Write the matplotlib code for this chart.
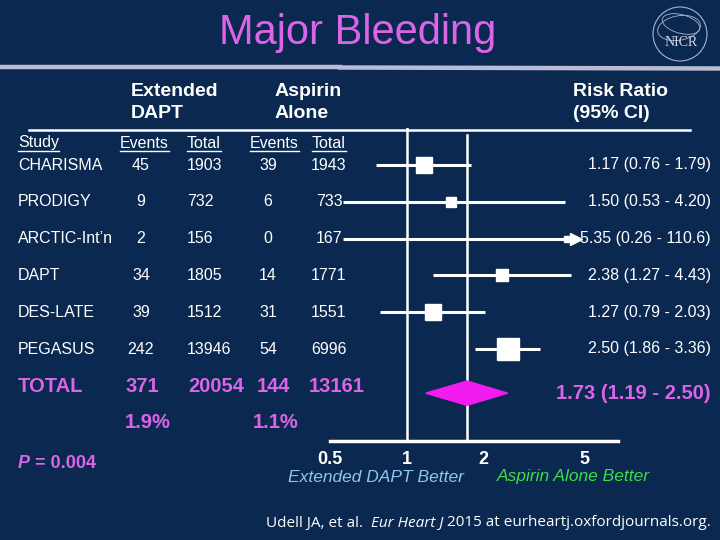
import numpy as np
import matplotlib
matplotlib.use('Agg')
import matplotlib.pyplot as plt
from matplotlib.transforms import blended_transform_factory
from matplotlib.lines import Line2D
from matplotlib.patches import Polygon, Ellipse

# ---------------- data ----------------
studies = ['CHARISMA', 'PRODIGY', 'ARCTIC-Int\u2019n', 'DAPT', 'DES-LATE', 'PEGASUS']
dapt_events = [45, 9, 2, 34, 39, 242]
dapt_total = [1903, 732, 156, 1805, 1512, 13946]
asp_events = [39, 6, 0, 14, 31, 54]
asp_total = [1943, 733, 167, 1771, 1551, 6996]
rr = [1.17, 1.50, 5.35, 2.38, 1.27, 2.50]
ci_lo = [0.76, 0.53, 0.26, 1.27, 0.79, 1.86]
ci_hi = [1.79, 4.20, 110.6, 4.43, 2.03, 3.36]
rr_labels = ['1.17 (0.76 - 1.79)', '1.50 (0.53 - 4.20)', '5.35 (0.26 - 110.6)',
             '2.38 (1.27 - 4.43)', '1.27 (0.79 - 2.03)', '2.50 (1.86 - 3.36)']
weights = [21, 7, 3.5, 12, 21, 35.5]
total_counts = [371, 20054, 144, 13161]
total_pcts = ['1.9%', '1.1%']
total_rr, total_lo, total_hi = 1.73, 1.19, 2.50
total_label = '1.73 (1.19 - 2.50)'
p_value = '0.004'
xticks = [0.5, 1, 2, 5]
xtick_labels = ['0.5', '1', '2', '5']

# ---------------- style ----------------
W, H = 720, 540
BG = '#0a2850'
WHITE = 'white'
MAG = '#dc64e6'
DIAM = '#f31cf0'
SANS = ['Liberation Sans', 'DejaVu Sans']
CIT = ['Open Sans', 'DejaVu Sans']

fig = plt.figure(figsize=(W / 100, H / 100), dpi=100, facecolor=BG)


def fx(x):
    return x / W


def fy(y):
    return 1 - y / H


# forest axes: log x, rows on y
row0_px, row_step = 165.0, 36.8
ax_top_px, ax_bot_px = 128.0, 441.0
ax_left_px = 330.0
xlo, xhi = 0.53, 6.8
px_per_decade = 260.0
ax_w_px = px_per_decade * np.log10(xhi / xlo)
ax = fig.add_axes([fx(ax_left_px), fy(ax_bot_px), ax_w_px / W, (ax_bot_px - ax_top_px) / H])
ax.set_facecolor('none')
ax.set_xscale('log')
ax.set_xlim(xlo, xhi)
ylim_bot = (ax_bot_px - row0_px) / row_step
ylim_top = (ax_top_px - row0_px) / row_step
ax.set_ylim(ylim_bot, ylim_top)
for s in ['left', 'right', 'top']:
    ax.spines[s].set_visible(False)
ax.spines['bottom'].set_color(WHITE)
ax.spines['bottom'].set_linewidth(2.5)
ax.set_yticks([])
ax.set_xticks(xticks)
ax.set_xticklabels(xtick_labels)
ax.xaxis.set_minor_locator(matplotlib.ticker.NullLocator())
ax.tick_params(axis='x', length=0, pad=7, colors=WHITE)
for t in ax.get_xticklabels():
    t.set_fontfamily(SANS)
    t.set_fontweight('bold')
    t.set_fontsize(13)

# reference lines
ax.axvline(1, color=WHITE, lw=1.8, zorder=1)
ax.axvline(total_rr, ymin=0, ymax=(ax_bot_px - 135) / (ax_bot_px - ax_top_px), color=WHITE, lw=1.8, zorder=1)

arrow_cap = 4.7     # display limit on the right (arrow)
lo_cap = 0.565      # display limit on the left
ms_k = 2.65
for i in range(len(studies)):
    hi = ci_hi[i]
    lo = max(ci_lo[i], lo_cap)
    if hi > arrow_cap:
        ax.plot([lo, arrow_cap], [i, i], color=WHITE, lw=2.2, zorder=2, solid_capstyle='butt')
        ax.plot([arrow_cap * 0.985], [i], marker='>', ms=8, color=WHITE, zorder=3, clip_on=False)
        xpt = arrow_cap / 1.1
    else:
        ax.plot([lo, hi], [i, i], color=WHITE, lw=2.2, zorder=2, solid_capstyle='butt')
        xpt = rr[i]
    ax.plot([xpt], [i], marker='s', ms=ms_k * np.sqrt(weights[i]), color=WHITE, mec=WHITE, zorder=3)

total_row = 6.2
dh = 0.33
diamond = Polygon([(total_lo, total_row), (total_rr, total_row - dh), (total_hi, total_row),
                   (total_rr, total_row + dh)], closed=True, color=DIAM, zorder=4)
ax.add_patch(diamond)

tr = blended_transform_factory(fig.transFigure, ax.transData)

# table rows
fs_row = 11.5
for i, name in enumerate(studies):
    fig.text(fx(18), i, name, transform=tr, color=WHITE, fontsize=fs_row, family=SANS, va='center', ha='left')
    fig.text(fx(141), i, str(dapt_events[i]), transform=tr, color=WHITE, fontsize=fs_row, family=SANS, va='center', ha='center')
    fig.text(fx(187), i, str(dapt_total[i]), transform=tr, color=WHITE, fontsize=fs_row, family=SANS, va='center', ha='left')
    fig.text(fx(268), i, str(asp_events[i]), transform=tr, color=WHITE, fontsize=fs_row, family=SANS, va='center', ha='center')
    fig.text(fx(329), i, str(asp_total[i]), transform=tr, color=WHITE, fontsize=fs_row, family=SANS, va='center', ha='center')
    fig.text(fx(711), i, rr_labels[i], transform=tr, color=WHITE, fontsize=fs_row, family=SANS, va='center', ha='right')

# total row
tot_text_row = 6.03
fs_tot = 14.5
fig.text(fx(18), tot_text_row, 'TOTAL', transform=tr, color=MAG, fontsize=fs_tot, family=SANS, weight='bold', va='center')
fig.text(fx(142), tot_text_row, str(total_counts[0]), transform=tr, color=MAG, fontsize=fs_tot, family=SANS, weight='bold', va='center', ha='center')
fig.text(fx(188), tot_text_row, str(total_counts[1]), transform=tr, color=MAG, fontsize=fs_tot, family=SANS, weight='bold', va='center', ha='left')
fig.text(fx(273), tot_text_row, str(total_counts[2]), transform=tr, color=MAG, fontsize=fs_tot, family=SANS, weight='bold', va='center', ha='center')
fig.text(fx(309), tot_text_row, str(total_counts[3]), transform=tr, color=MAG, fontsize=fs_tot, family=SANS, weight='bold', va='center', ha='left')
fig.text(fx(711), total_row, total_label, transform=tr, color=MAG, fontsize=fs_tot, family=SANS, weight='bold', va='center', ha='right')
pct_row = (422 - row0_px) / row_step
fig.text(fx(148), pct_row, total_pcts[0], transform=tr, color=MAG, fontsize=fs_tot, family=SANS, weight='bold', va='center', ha='center')
fig.text(fx(276), pct_row, total_pcts[1], transform=tr, color=MAG, fontsize=fs_tot, family=SANS, weight='bold', va='center', ha='center')

# column headers (underlined)
hdr_row = (143 - row0_px) / row_step
hdrs = [(18, 'Study'), (120, 'Events'), (187, 'Total'), (250, 'Events'), (312, 'Total')]
hdr_texts = []
for x, s in hdrs:
    hdr_texts.append(fig.text(fx(x), hdr_row, s, transform=tr, color=WHITE, fontsize=11.5, family=SANS, va='center', ha='left'))

# group headers
fs_h = 14
for x, y, s in [(131, 91, 'Extended'), (131, 114, 'DAPT'), (275, 91, 'Aspirin'), (275, 114, 'Alone'),
                (573, 91, 'Risk Ratio'), (573, 114, '(95% CI)')]:
    fig.text(fx(x), fy(y), s, color=WHITE, fontsize=fs_h, family=SANS, weight='bold', va='center')

# header rule
fig.add_artist(Line2D([fx(29), fx(690)], [fy(130), fy(130)], color=WHITE, lw=1.8))

# title and band
fig.text(fx(358), fy(33), 'Major Bleeding', color=MAG, fontsize=30, family=SANS, ha='center', va='center')
fig.add_artist(Line2D([0, fx(340)], [fy(66.5), fy(66.5)], color='#b9bdd3', lw=3.2))
fig.add_artist(Line2D([fx(340), 1], [fy(67.5), fy(68.5)], color='#b9bdd3', lw=3.2))

# logo
fig.add_artist(Ellipse((fx(680), fy(34)), 54 / W, 54 / H, fill=False, ec='#aab4cc', lw=0.8))
fig.add_artist(Ellipse((fx(679), fy(28)), 44 / W, 24 / H, angle=20, fill=False, ec='#aab4cc', lw=0.6))
fig.add_artist(Ellipse((fx(681), fy(24)), 40 / W, 18 / H, angle=-25, fill=False, ec='#aab4cc', lw=0.6))
fig.text(fx(681), fy(43), 'NICR', color='#d0d6e6', fontsize=10, family=['Liberation Serif', 'DejaVu Serif'], ha='center', va='center')

# favour labels
fig.text(fx(376), fy(478), 'Extended DAPT Better', color='#8ec6ee', fontsize=12.5, family=SANS, style='italic', ha='center', va='center')
fig.text(fx(573), fy(477), 'Aspirin Alone Better', color='#3ddc4a', fontsize=12.5, family=SANS, style='italic', ha='center', va='center')

# p value
pt1 = fig.text(fx(18), fy(463), 'P', color=MAG, fontsize=13, family=SANS, style='italic', weight='bold', va='center')

# citation pieces
c1 = fig.text(fx(266), fy(523), 'Udell JA, et al.  ', color=WHITE, fontsize=11, family=CIT, va='center')
fig.canvas.draw()
r = fig.canvas.get_renderer()

bb = pt1.get_window_extent(r)
fig.text(bb.x1 / W, fy(463), ' = ' + p_value, color=MAG, fontsize=13, family=SANS, weight='bold', va='center')

bb = c1.get_window_extent(r)
c2 = fig.text(bb.x1 / W, fy(523), 'Eur Heart J', color=WHITE, fontsize=11, family=CIT, style='italic', va='center')
bb2 = c2.get_window_extent(r)
fig.text(bb2.x1 / W, fy(523), ' 2015 at eurheartj.oxfordjournals.org.', color=WHITE, fontsize=11, family=CIT, va='center')

# underline headers
for t in hdr_texts:
    b = t.get_window_extent(r)
    yline = b.y0 - 0.5
    fig.add_artist(Line2D([b.x0 / W, b.x1 / W], [yline / H, yline / H], color=WHITE, lw=1.0))

fig.savefig('out.png', dpi=100, facecolor=BG)
